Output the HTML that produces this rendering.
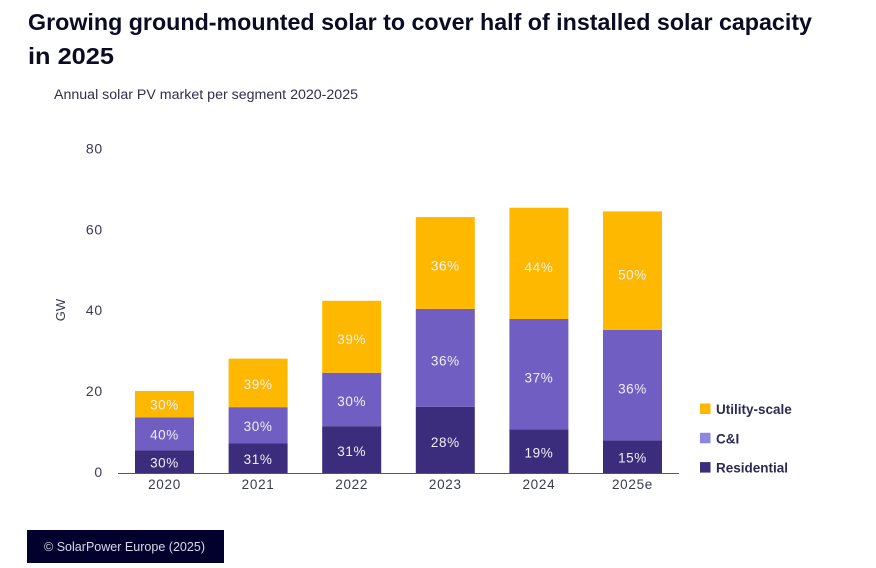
<!DOCTYPE html>
<html lang="en">
<head>
<meta charset="utf-8">
<title>Growing ground-mounted solar</title>
<style>
html,body{margin:0;padding:0;background:#fff;width:876px;height:568px;overflow:hidden}
svg{display:block;filter:blur(0.3px)}
text{font-family:"Liberation Sans",sans-serif}
</style>
</head>
<body>
<svg id="chart" width="876" height="568" viewBox="0 0 876 568" xmlns="http://www.w3.org/2000/svg">
  <rect x="0" y="0" width="876" height="568" fill="#ffffff"/>
  <text x="28" y="30" font-size="23" font-weight="700" fill="#0b0b24" textLength="784" lengthAdjust="spacingAndGlyphs">Growing ground-mounted solar to cover half of installed solar capacity</text>
  <text x="28" y="64" font-size="23" font-weight="700" fill="#0b0b24" textLength="86" lengthAdjust="spacingAndGlyphs">in 2025</text>
  <text x="54" y="99" font-size="13.5" fill="#2f2f4a" textLength="304" lengthAdjust="spacingAndGlyphs">Annual solar PV market per segment 2020-2025</text>
  <text transform="translate(65,310) rotate(-90)" text-anchor="middle" font-size="13" fill="#3a3a55">GW</text>
  <g id="y-ticks"></g>
  <g id="bars"></g>
  <g id="x-ticks"></g>
  <line x1="118" x2="679" y1="473.5" y2="473.5" stroke="#55556a" stroke-width="1"/>
  <g id="legend"></g>
  <rect x="27" y="530" width="197" height="33" fill="#02012e"/>
  <text x="44" y="551" font-size="12.5" fill="#d8d8ea" textLength="161" lengthAdjust="spacingAndGlyphs">© SolarPower Europe (2025)</text>
</svg>
<script>
const categories = ['2020', '2021', '2022', '2023', '2024', '2025e'];
const residential = [5.7, 7.5, 11.7, 16.5, 10.9, 8.2];
const commercial = [8.2, 8.9, 13.2, 24.2, 27.3, 27.3];
const utility = [6.5, 12.0, 17.8, 22.7, 27.5, 29.3];
const residentialLabels = ['30%', '31%', '31%', '28%', '19%', '15%'];
const commercialLabels = ['40%', '30%', '30%', '36%', '37%', '36%'];
const utilityLabels = ['30%', '39%', '39%', '36%', '44%', '50%'];
const yTicks = [0, 20, 40, 60, 80];
const legendLabels = ['Utility-scale', 'C&I', 'Residential'];

const NS = 'http://www.w3.org/2000/svg';
function yScale(v) { return 473.5 - v * 4.045; }
function xScale(i) { return 164.5 + i * 93.6; }
const barWidth = 59;

function svgEl(tag, attrs, text) {
  const el = document.createElementNS(NS, tag);
  for (const k in attrs) el.setAttribute(k, attrs[k]);
  if (text !== undefined) el.textContent = text;
  return el;
}

const yGroup = document.getElementById('y-ticks');
yTicks.forEach(function (t) {
  const el = svgEl('text', { x: 103, y: yScale(t) + 3.5, 'text-anchor': 'end', 'font-size': 14, 'letter-spacing': 0.8, fill: '#3a3a55' }, t);
  
  
  yGroup.appendChild(el);
});

const xGroup = document.getElementById('x-ticks');
const barGroup = document.getElementById('bars');
const segmentSeries = [
  { name: 'residential', values: residential, labels: residentialLabels, color: '#3b2d7b' },
  { name: 'commercial', values: commercial, labels: commercialLabels, color: '#705ec2' },
  { name: 'utility', values: utility, labels: utilityLabels, color: '#ffb800' }
];

categories.forEach(function (cat, i) {
  const cx = xScale(i);
  let base = 0;
  segmentSeries.forEach(function (s) {
    const top = base + s.values[i];
    const yTop = yScale(top);
    const yBot = yScale(base);
    const r = svgEl('rect', { x: cx - barWidth / 2, y: yTop, width: barWidth, height: yBot - yTop, fill: s.color });
    
    
    barGroup.appendChild(r);
    const labelY = (yTop + yBot) / 2 + 4.5 + (yBot - yTop) * 0.035;
    const t = svgEl('text', { x: cx, y: labelY, 'text-anchor': 'middle', 'font-size': 13.5, 'letter-spacing': 0.6, fill: '#f1eff8' }, s.labels[i]);
    
    
    barGroup.appendChild(t);
    base = top;
  });
  const label = svgEl('text', { x: cx, y: 489, 'text-anchor': 'middle', 'font-size': 13.5, 'letter-spacing': 0.7, fill: '#3a3a55' }, cat);
  
  
  xGroup.appendChild(label);
});

const legendColors = ['#ffb800', '#8f86dd', '#3b2d7b'];
const legendGroup = document.getElementById('legend');
legendLabels.forEach(function (name, i) {
  const y = 403.5 + i * 29.3;
  const sw = svgEl('rect', { x: 700, y: y, width: 10.5, height: 10.5, fill: legendColors[i] });
  
  
  legendGroup.appendChild(sw);
  const t = svgEl('text', { x: 716, y: y + 10.5, 'font-size': 13.5, 'font-weight': 700, fill: '#2c2a52' }, name);
  
  
  legendGroup.appendChild(t);
});
</script>
</body>
</html>
